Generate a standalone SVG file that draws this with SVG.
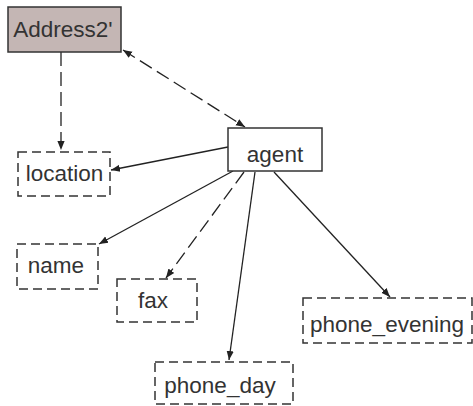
<svg xmlns="http://www.w3.org/2000/svg" width="473" height="406" viewBox="0 0 473 406">
<defs>
<marker id="ah" viewBox="0 0 10 10" refX="10" refY="5" markerWidth="9" markerHeight="9" markerUnits="userSpaceOnUse" orient="auto-start-reverse">
<path d="M0,1 L10,5 L0,9 z" fill="#222"/>
</marker>
</defs>
<style>
.t{font-family:"Liberation Sans",Arial,sans-serif;font-size:22.5px;fill:#333;text-anchor:middle}
.solid{fill:#fff;stroke:#333;stroke-width:1.5}
.dash{fill:#fff;stroke:#333;stroke-width:1.5;stroke-dasharray:9 5}
.c{fill:none;stroke:#222;stroke-width:1.3}
.cd{fill:none;stroke:#222;stroke-width:1.3;stroke-dasharray:14 6}
</style>
<g id="connectors">
<line class="cd" x1="61" y1="52" x2="61" y2="150" marker-end="url(#ah)"/>
<line class="cd" x1="123" y1="50" x2="245" y2="127" marker-start="url(#ah)" marker-end="url(#ah)"/>
<line class="c" x1="228" y1="147" x2="111" y2="170" marker-end="url(#ah)"/>
<line class="c" x1="233" y1="171" x2="99" y2="244" marker-end="url(#ah)"/>
<line class="cd" x1="244" y1="172" x2="166" y2="278" marker-end="url(#ah)"/>
<line class="c" x1="255" y1="172" x2="229" y2="360" marker-end="url(#ah)"/>
<line class="c" x1="274" y1="172" x2="390" y2="297" marker-end="url(#ah)"/>
</g>
<g id="address2">
<rect x="8" y="7" width="113" height="45" fill="#c4b6b4" stroke="#333" stroke-width="1.5"/>
<text class="t" x="63" y="37">Address2'</text>
</g>
<g id="agent">
<rect class="solid" x="228" y="128" width="94" height="43"/>
<text class="t" x="275" y="162">agent</text>
</g>
<g id="location">
<rect class="dash" x="18" y="152" width="92" height="44"/>
<text class="t" x="64.5" y="181">location</text>
</g>
<g id="name">
<rect class="dash" x="17" y="244" width="81" height="45"/>
<text class="t" x="56" y="273">name</text>
</g>
<g id="fax">
<rect class="dash" x="117" y="279" width="80" height="43"/>
<text class="t" x="153" y="308">fax</text>
</g>
<g id="phone_day">
<rect class="dash" x="155" y="362" width="138" height="42"/>
<text class="t" x="220" y="393">phone_day</text>
</g>
<g id="phone_evening">
<rect class="dash" x="303" y="298" width="169" height="45"/>
<text class="t" x="387" y="332">phone_evening</text>
</g>
</svg>
